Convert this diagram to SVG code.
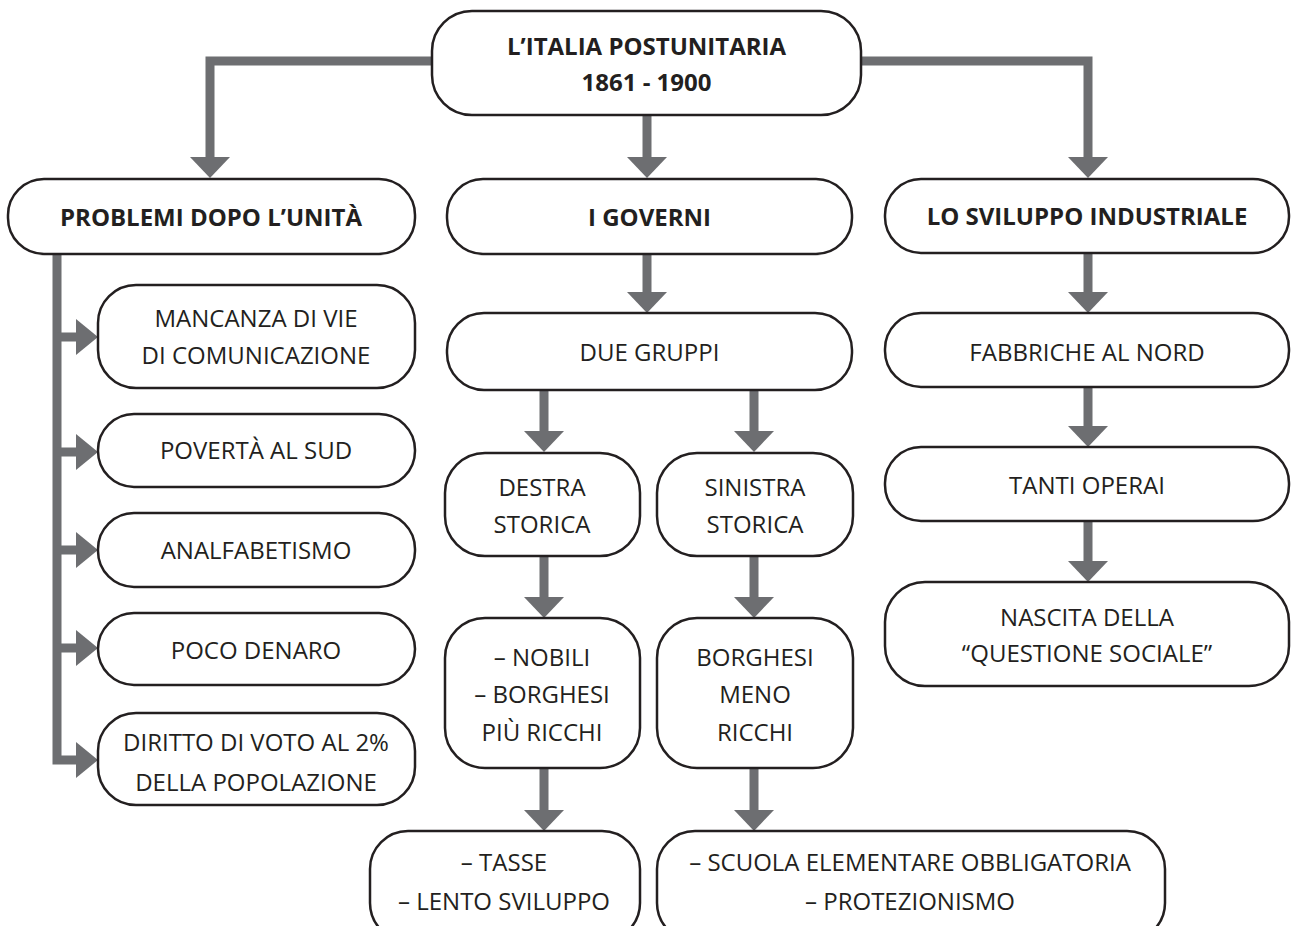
<svg xmlns="http://www.w3.org/2000/svg" xmlns:xlink="http://www.w3.org/1999/xlink" width="1293" height="926" viewBox="0 0 1293 926">
<style>
.box{fill:#fff;stroke:#231f20;stroke-width:2.5}
.t{font-family:"Open Sans","Noto Sans",sans-serif;font-size:24px;fill:#231f20;text-anchor:middle}
.b{font-weight:700}
.conn{stroke:#6d6e71;stroke-width:9;fill:none;stroke-linejoin:miter}
.head{fill:#6d6e71}
</style>
<defs>
<path id="ad" d="M-20,0 H20 L0,21 Z"/>
<path id="ar" d="M0,-18 V18 L22,0 Z"/>
</defs>
<rect width="1293" height="926" fill="#fff"/>
<g id="connectors">
<path class="conn" d="M432,61 H210 V158"/>
<path class="conn" d="M647,115 V158"/>
<path class="conn" d="M861,61 H1088 V158"/>
<path class="conn" d="M57,254 V760 H78"/>
<path class="conn" d="M57,337 H78 M57,452 H78 M57,550 H78 M57,648 H78"/>
<path class="conn" d="M647,253 V293"/>
<path class="conn" d="M544,390 V432 M754,390 V432"/>
<path class="conn" d="M544,556 V598 M754,556 V598"/>
<path class="conn" d="M544,768 V811 M754,768 V811"/>
<path class="conn" d="M1088,252 V293 M1088,387 V427 M1088,521 V562"/>
<g class="head">
<use xlink:href="#ad" x="210" y="157"/>
<use xlink:href="#ad" x="647" y="157"/>
<use xlink:href="#ad" x="1088" y="157"/>
<use xlink:href="#ar" x="76" y="337"/>
<use xlink:href="#ar" x="76" y="452"/>
<use xlink:href="#ar" x="76" y="550"/>
<use xlink:href="#ar" x="76" y="648"/>
<use xlink:href="#ar" x="76" y="760"/>
<use xlink:href="#ad" x="647" y="292"/>
<use xlink:href="#ad" x="544" y="431"/>
<use xlink:href="#ad" x="754" y="431"/>
<use xlink:href="#ad" x="544" y="597"/>
<use xlink:href="#ad" x="754" y="597"/>
<use xlink:href="#ad" x="544" y="810"/>
<use xlink:href="#ad" x="754" y="810"/>
<use xlink:href="#ad" x="1088" y="292"/>
<use xlink:href="#ad" x="1088" y="426"/>
<use xlink:href="#ad" x="1088" y="561"/>
</g>
</g>
<g id="n-title">
<rect class="box" x="432" y="11" width="429" height="104" rx="40"/>
<text class="t b" x="646.5" y="55">L’ITALIA POSTUNITARIA</text>
<text class="t b" x="646.5" y="91">1861 - 1900</text>
</g>
<g id="n-problemi">
<rect class="box" x="8" y="179" width="407" height="75" rx="36"/>
<text class="t b" x="211" y="226">PROBLEMI DOPO L’UNITÀ</text>
</g>
<g id="n-governi">
<rect class="box" x="447" y="179" width="405" height="75" rx="36"/>
<text class="t b" x="649.5" y="226">I GOVERNI</text>
</g>
<g id="n-sviluppo">
<rect class="box" x="885" y="179" width="404" height="74" rx="36"/>
<text class="t b" x="1087" y="225">LO SVILUPPO INDUSTRIALE</text>
</g>
<g id="n-mancanza">
<rect class="box" x="98" y="285" width="317" height="103" rx="38"/>
<text class="t" x="256" y="327">MANCANZA DI VIE</text>
<text class="t" x="256" y="364">DI COMUNICAZIONE</text>
</g>
<g id="n-poverta">
<rect class="box" x="98" y="414" width="317" height="73" rx="36"/>
<text class="t" x="256" y="459">POVERTÀ AL SUD</text>
</g>
<g id="n-analfabetismo">
<rect class="box" x="98" y="513" width="317" height="74" rx="36"/>
<text class="t" x="256" y="559">ANALFABETISMO</text>
</g>
<g id="n-denaro">
<rect class="box" x="98" y="613" width="317" height="72" rx="36"/>
<text class="t" x="256" y="659">POCO DENARO</text>
</g>
<g id="n-voto">
<rect class="box" x="98" y="713" width="317" height="92" rx="38"/>
<text class="t" x="256" y="751">DIRITTO DI VOTO AL 2%</text>
<text class="t" x="256" y="791">DELLA POPOLAZIONE</text>
</g>
<g id="n-gruppi">
<rect class="box" x="447" y="313" width="405" height="77" rx="37"/>
<text class="t" x="649.5" y="361">DUE GRUPPI</text>
</g>
<g id="n-destra">
<rect class="box" x="445" y="453" width="195" height="103" rx="40"/>
<text class="t" x="542" y="496">DESTRA</text>
<text class="t" x="542" y="533">STORICA</text>
</g>
<g id="n-sinistra">
<rect class="box" x="657" y="453" width="196" height="103" rx="40"/>
<text class="t" x="755" y="496">SINISTRA</text>
<text class="t" x="755" y="533">STORICA</text>
</g>
<g id="n-nobili">
<rect class="box" x="445" y="618" width="195" height="150" rx="40"/>
<text class="t" x="542" y="666">– NOBILI</text>
<text class="t" x="542" y="703">– BORGHESI</text>
<text class="t" x="542" y="741">PIÙ RICCHI</text>
</g>
<g id="n-borghesi">
<rect class="box" x="657" y="618" width="196" height="150" rx="40"/>
<text class="t" x="755" y="666">BORGHESI</text>
<text class="t" x="755" y="703">MENO</text>
<text class="t" x="755" y="741">RICCHI</text>
</g>
<g id="n-tasse">
<rect class="box" x="370" y="831" width="270" height="110" rx="38"/>
<text class="t" x="504" y="871">– TASSE</text>
<text class="t" x="504" y="910">– LENTO SVILUPPO</text>
</g>
<g id="n-scuola">
<rect class="box" x="657" y="831" width="508" height="110" rx="38"/>
<text class="t" x="910" y="871">– SCUOLA ELEMENTARE OBBLIGATORIA</text>
<text class="t" x="910" y="910">– PROTEZIONISMO</text>
</g>
<g id="n-fabbriche">
<rect class="box" x="885" y="313" width="404" height="74" rx="36"/>
<text class="t" x="1087" y="361">FABBRICHE AL NORD</text>
</g>
<g id="n-operai">
<rect class="box" x="885" y="447" width="404" height="74" rx="36"/>
<text class="t" x="1087" y="494">TANTI OPERAI</text>
</g>
<g id="n-nascita">
<rect class="box" x="885" y="582" width="404" height="104" rx="40"/>
<text class="t" x="1087" y="626">NASCITA DELLA</text>
<text class="t" x="1087" y="662">“QUESTIONE SOCIALE”</text>
</g>
</svg>
